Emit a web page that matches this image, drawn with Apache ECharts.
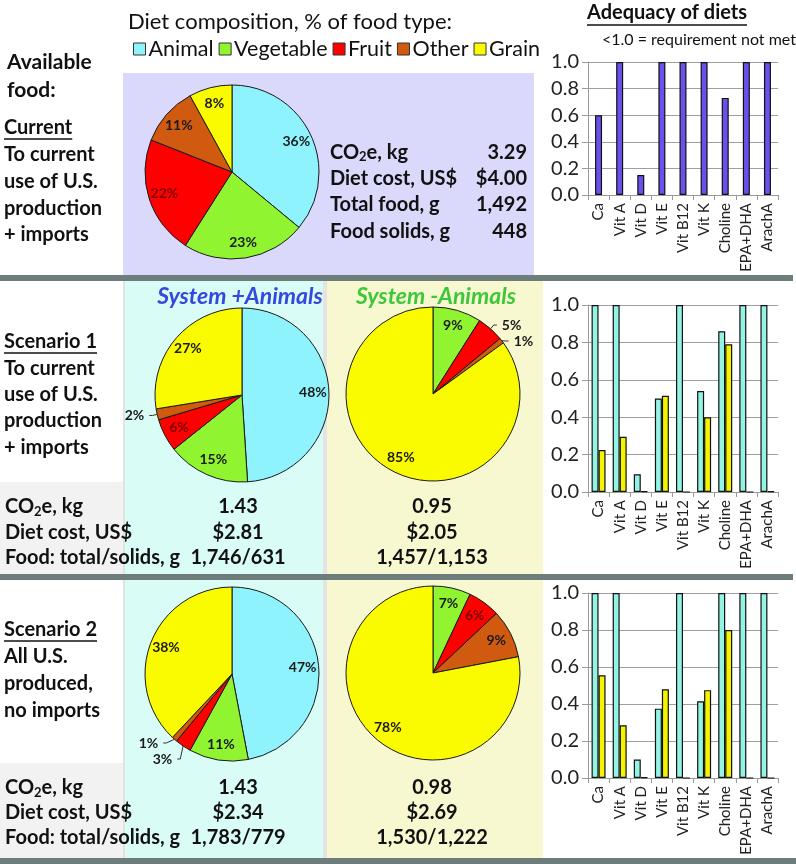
<!DOCTYPE html>
<html><head><meta charset="utf-8">
<script src="https://cdn.jsdelivr.net/npm/echarts@6/dist/echarts.min.js"></script>
<style>html,body{margin:0;padding:0;background:#fff}#c{width:796px;height:864px}</style>
</head><body><div id="c"></div>
<script>
// ---------- DATA ----------
const foodTypes = ['Animal', 'Vegetable', 'Fruit', 'Other', 'Grain'];
const pieCurrent = [36, 23, 22, 11, 8];
const pieS1Plus = [48, 15, 6, 2, 27];
const pieS1Minus = [0, 9, 5, 1, 85];
const pieS2Plus = [47, 11, 3, 1, 38];
const pieS2Minus = [0, 7, 6, 9, 78];

const nutrients = ['Ca', 'Vit A', 'Vit D', 'Vit E', 'Vit B12', 'Vit K', 'Choline', 'EPA+DHA', 'ArachA'];
const adequacyCurrent = [0.60, 1.0, 0.15, 1.0, 1.0, 1.0, 0.73, 1.0, 1.0];
const adequacyS1Plus  = [1.0, 1.0, 0.095, 0.50, 1.0, 0.54, 0.86, 1.0, 1.0];
const adequacyS1Minus = [0.225, 0.295, 0.003, 0.515, 0, 0.40, 0.79, 0, 0.003];
const adequacyS2Plus  = [1.0, 1.0, 0.10, 0.375, 1.0, 0.415, 1.0, 1.0, 1.0];
const adequacyS2Minus = [0.555, 0.285, 0.003, 0.48, 0, 0.475, 0.80, 0, 0];
const adequacyTickLabels = ['0.0', '0.2', '0.4', '0.6', '0.8', '1.0'];

const statLabelsCurrent = ['CO{s|2}e, kg', 'Diet cost, US$', 'Total food, g', 'Food solids, g'];
const statsCurrent = ['3.29', '$4.00', '1,492', '448'];
const statLabelsScenario = ['CO{s|2}e, kg', 'Diet cost, US$', 'Food: total/solids, g'];
const statsS1Plus = ['1.43', '$2.81', '1,746/631'];
const statsS1Minus = ['0.95', '$2.05', '1,457/1,153'];
const statsS2Plus = ['1.43', '$2.34', '1,783/779'];
const statsS2Minus = ['0.98', '$2.69', '1,530/1,222'];

// ---------- STYLE ----------
const FONT = 'Lato, "Open Sans", sans-serif';
const foodColors = ['#8ff3fd', '#90f430', '#fe0000', '#cf5a10', '#fbfb00'];
const TXT = '#111';
const R = 87;

const mctx = document.createElement('canvas').getContext('2d');
function measure(str, font) { mctx.font = font; return mctx.measureText(str).width; }

function pieMain(vals, cx, cy) {
  return {
    type: 'pie', center: [cx, cy], radius: [0, R], startAngle: 90, clockwise: true,
    animation: false, silent: true, z: 3,
    label: { show: false }, labelLine: { show: false },
    itemStyle: { borderColor: '#1a1a1a', borderWidth: 1 },
    data: foodTypes.map((n, i) => ({ name: n, value: vals[i], itemStyle: { color: foodColors[i] } }))
  };
}
function pieLabels(vals, cx, cy) {
  return {
    type: 'pie', center: [cx, cy], radius: [49, R], startAngle: 90, clockwise: true,
    animation: false, silent: true, z: 4, legendHoverLink: false,
    itemStyle: { color: 'rgba(0,0,0,0)', borderWidth: 0 },
    label: { formatter: '{c}%', fontFamily: FONT, fontWeight: 'bold', fontSize: 14 },
    data: foodTypes.map((n, i) => {
      const v = vals[i]; const out = v <= 5;
      return {
        name: n, value: v,
        label: { show: v > 0, position: out ? 'outside' : 'inside', color: (i === 2 && !out) ? '#7a0000' : '#1a1a1a' },
        labelLine: { show: out, length: 5, length2: 3, lineStyle: { color: '#333', width: 1 } }
      };
    })
  };
}

function rect(x, y, w, h, fill) {
  return { type: 'rect', silent: true, z: -10, shape: { x, y, width: w, height: h }, style: { fill } };
}
function text(x, y, str, o) {
  o = o || {};
  return {
    type: 'text', silent: true, z: 50, x, y,
    style: {
      text: str, fontFamily: FONT, fontSize: o.size || 20, fontWeight: o.weight || 'bold',
      fontStyle: o.style || 'normal', fill: o.fill || TXT,
      align: o.align || 'left', verticalAlign: 'middle', textAlign: o.align || 'left', textVerticalAlign: 'middle',
      rich: { s: { fontSize: 13, fontFamily: FONT, fontWeight: o.weight || 'bold', fill: o.fill || TXT, padding: [9, 0, 0, 0] } }
    }
  };
}
function underline(x, y, str, size, weight, align) {
  const w = measure(str, (weight || 'bold') + ' ' + size + 'px ' + FONT);
  const x0 = align === 'center' ? x - w / 2 : x;
  return { type: 'line', silent: true, z: 50, shape: { x1: x0, y1: y, x2: x0 + w, y2: y }, style: { stroke: TXT, lineWidth: 1.5 } };
}

const g = [];
// backgrounds
g.push(rect(123, 73, 411, 202, '#dad8fb'));
g.push(rect(0, 482, 125, 92, '#f2f2f2'));
g.push(rect(123, 281, 2, 293, '#e2e2e2'));
g.push(rect(125, 281, 198, 293, '#dafcf6'));
g.push(rect(323, 281, 4, 293, '#e4e4e4'));
g.push(rect(327, 281, 216, 293, '#f8f8d0'));
g.push(rect(0, 763, 125, 95, '#f2f2f2'));
g.push(rect(123, 580, 2, 278, '#e2e2e2'));
g.push(rect(125, 580, 198, 278, '#dafcf6'));
g.push(rect(323, 580, 4, 278, '#e4e4e4'));
g.push(rect(327, 580, 216, 278, '#f8f8d0'));
// separators
g.push(rect(0, 275, 793, 6, '#6d7d7b'));
g.push(rect(0, 574, 793, 6, '#6d7d7b'));
g.push(rect(0, 858, 796, 6, '#6d7d7b'));

// header texts
g.push(text(128, 22, 'Diet composition, % of food type:', { size: 22, weight: 'normal' }));
g.push(text(7, 62, 'Available', { size: 21 }));
g.push(text(7, 90, 'food:', { size: 21 }));
g.push(text(667, 13, 'Adequacy of diets', { size: 20, align: 'center' }));
g.push(underline(667, 25, 'Adequacy of diets', 20, 'bold', 'center'));
g.push(text(602, 40, '<1.0 = requirement not met', { size: 16, weight: 'normal' }));

// left column scenario descriptions
function block(lines, y0, step) {
  lines.forEach((s, i) => g.push(text(4, y0 + step * i, s, { size: 20 })));
  g.push(underline(4, y0 + 11, lines[0], 20, 'bold'));
}
block(['Current', 'To current', 'use of U.S.', 'production', '+ imports'], 128, 26.7);
block(['Scenario 1', 'To current', 'use of U.S.', 'production', '+ imports'], 342, 26.3);
block(['Scenario 2', 'All U.S.', 'produced,', 'no imports'], 630, 26.7);

// current stats
const curY = [152.5, 179, 205, 231.5];
statLabelsCurrent.forEach((s, i) => {
  g.push(text(330, curY[i], s, { size: 20 }));
  g.push(text(527, curY[i], statsCurrent[i], { size: 20, align: 'right' }));
});

// system titles
g.push(text(240, 297, 'System +Animals', { size: 23, style: 'italic', fill: '#3448dd', align: 'center' }));
g.push(text(436, 297, 'System -Animals', { size: 23, style: 'italic', fill: '#3ec73a', align: 'center' }));

function scenStats(rows, plus, minus) {
  statLabelsScenario.forEach((s, i) => {
    g.push(text(5, rows[i], s, { size: 20 }));
    g.push(text(238, rows[i], plus[i], { size: 20, align: 'center' }));
    g.push(text(432, rows[i], minus[i], { size: 20, align: 'center' }));
  });
}
scenStats([507, 533, 558], statsS1Plus, statsS1Minus);
scenStats([788, 813, 838], statsS2Plus, statsS2Minus);

// ---------- bar charts ----------
const grids = [
  { left: 588, top: 62, width: 190, height: 133 },
  { left: 588, top: 305, width: 190, height: 187 },
  { left: 588, top: 593, width: 190, height: 185 }
];
const axisGray = '#9a9a9a';
const xAxes = grids.map((_, i) => ({
  type: 'category', gridIndex: i, data: nutrients,
  axisLine: { lineStyle: { color: axisGray, width: 1 } },
  axisTick: { show: true, length: 5, lineStyle: { color: axisGray } },
  axisLabel: { rotate: 90, interval: 0, fontSize: 15, fontFamily: FONT, color: '#222', margin: 8 }
}));
const yAxes = grids.map((_, i) => ({
  type: 'value', gridIndex: i, min: 0, max: 1, interval: 0.2,
  axisLine: { show: true, lineStyle: { color: axisGray, width: 1 } },
  axisTick: { show: true, length: 6, lineStyle: { color: axisGray } },
  splitLine: { lineStyle: { color: '#a0a0a0', width: 1 } },
  axisLabel: { fontSize: 20, fontFamily: FONT, color: '#222', margin: 9,
    formatter: v => adequacyTickLabels[Math.round(v / 0.2)] }
}));
function bar(data, idx, color) {
  return { type: 'bar', xAxisIndex: idx, yAxisIndex: idx, data, barWidth: 7, barGap: '0%',
    animation: false, silent: true,
    itemStyle: { color, borderColor: '#111', borderWidth: 1.2 } };
}
const cyanBar = '#94f4e4', yellowBar = '#f4f400';

const option = {
  animation: false,
  backgroundColor: '#ffffff',
  legend: {
    data: foodTypes, left: 128, top: 33, orient: 'horizontal', selectedMode: false,
    icon: 'rect', itemWidth: 12, itemHeight: 12, itemGap: 5,
    itemStyle: { borderColor: '#333', borderWidth: 1 },
    textStyle: { fontSize: 21.5, fontFamily: FONT, color: '#111', padding: [0, 0, 0, -2] }
  },
  grid: grids, xAxis: xAxes, yAxis: yAxes,
  graphic: { elements: g },
  series: [
    pieMain(pieCurrent, 232, 172),
    pieMain(pieS1Plus, 242, 395),
    pieMain(pieS1Minus, 433, 394),
    pieMain(pieS2Plus, 232, 674),
    pieMain(pieS2Minus, 433, 673),
    pieLabels(pieCurrent, 232, 172),
    pieLabels(pieS1Plus, 242, 395),
    pieLabels(pieS1Minus, 433, 394),
    pieLabels(pieS2Plus, 232, 674),
    pieLabels(pieS2Minus, 433, 673),
    bar(adequacyCurrent, 0, '#6a50ec'),
    bar(adequacyS1Plus, 1, cyanBar),
    bar(adequacyS1Minus, 1, yellowBar),
    bar(adequacyS2Plus, 2, cyanBar),
    bar(adequacyS2Minus, 2, yellowBar)
  ]
};
const chart = echarts.init(document.getElementById('c'));
chart.setOption(option);
</script></body></html>
